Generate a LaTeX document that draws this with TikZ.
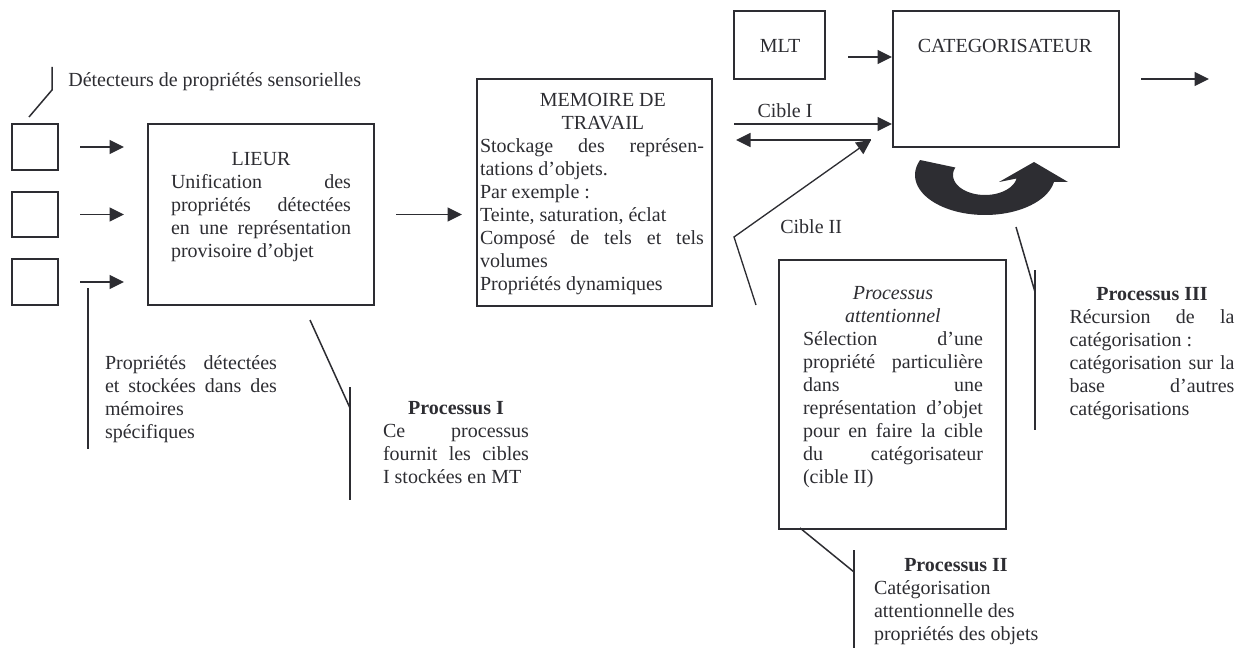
\documentclass[tikz,border=0pt]{standalone}
\usepackage{fontspec}
\setmainfont{Liberation Serif}
\usetikzlibrary{arrows.meta,fit}
\definecolor{ink}{RGB}{45,45,50}
\newcommand\jl[2]{\makebox[#1][s]{#2}}
\newcommand\lline[2]{\makebox[#1][l]{#2}}
\begin{document}
\begin{tikzpicture}[x=0.6pt,y=-0.6pt,
  font=\fontsize{12}{13.8}\selectfont,
  every node/.style={text=ink},
  box/.style={draw=ink, line width=1.2pt, inner sep=0pt},
  arr/.style={draw=ink, line width=0.8pt, -{Triangle[length=8.7pt,width=8.4pt]}},
  call/.style={draw=ink, line width=0.9pt},
  txt/.style={inner sep=0pt, anchor=north, align=center},
  lbl/.style={inner sep=0pt, anchor=base}]
\useasboundingbox (0,0) rectangle (1243,652);

% boxes
\node[box, fit={(12,124) (58,170)}] (d1) {};
\node[box, fit={(12,192) (58,237)}] (d2) {};
\node[box, fit={(12,259) (58,305)}] (d3) {};
\node[box, fit={(148,124) (374,305)}] (lieur) {};
\node[box, fit={(477,79) (712,306)}] (mem) {};
\node[box, fit={(734,11) (825,79)}] (mlt) {};
\node[box, fit={(893,11) (1119,147)}] (cat) {};
\node[box, fit={(779,260) (1006,529)}] (att) {};

% texts
\node[lbl, anchor=base west] (detlbl) at (68,87) {Détecteurs de propriétés sensorielles};
\node[lbl] (mltlbl) at (780,53) {MLT};
\node[lbl] (catlbl) at (1005,53) {CATEGORISATEUR};
\node[lbl] (c1lbl) at (785,118) {Cible I};
\node[lbl, anchor=base west] (c2lbl) at (780,233) {Cible II};

\node[txt] (lieurtxt) at (261,149) {\strut LIEUR\\
  \jl{108pt}{Unification des}\\
  \jl{108pt}{propriétés détectées}\\
  \jl{108pt}{en une représentation}\\
  \lline{108pt}{provisoire d’objet}};

\node[txt] (memtxt) at (592,90) {\strut\hspace*{13pt}MEMOIRE DE\\
  \hspace*{13pt}TRAVAIL\\
  \jl{134.4pt}{Stockage des représen-}\\
  \lline{134.4pt}{tations d’objets.}\\
  \lline{134.4pt}{Par exemple~:}\\
  \lline{134.4pt}{Teinte, saturation, éclat}\\
  \jl{134.4pt}{Composé de tels et tels}\\
  \lline{134.4pt}{volumes}\\
  \lline{134.4pt}{Propriétés dynamiques}};

\node[txt] (proptxt) at (191,353) {\strut\jl{103.2pt}{Propriétés détectées}\\
  \jl{103.2pt}{et stockées dans des}\\
  \lline{103.2pt}{mémoires}\\
  \lline{103.2pt}{spécifiques}};

\node[txt] (p1txt) at (456,398) {\strut\textbf{Processus I}\\
  \jl{87.6pt}{Ce processus}\\
  \jl{87.6pt}{fournit les cibles}\\
  \lline{87.6pt}{I stockées en MT}};

\node[txt] (atttxt) at (893,283) {\strut\textit{Processus}\\
  \textit{attentionnel}\\
  \jl{108pt}{Sélection d’une}\\
  \jl{108pt}{propriété particulière}\\
  \jl{108pt}{dans une}\\
  \jl{108pt}{représentation d’objet}\\
  \jl{108pt}{pour en faire la cible}\\
  \jl{108pt}{du catégorisateur}\\
  \lline{108pt}{(cible II)}};

\node[txt] (p3txt) at (1152,284) {\strut\textbf{Processus III}\\
  \jl{99pt}{Récursion de la}\\
  \lline{99pt}{catégorisation~:}\\
  \jl{99pt}{catégorisation sur la}\\
  \jl{99pt}{base d’autres}\\
  \lline{99pt}{catégorisations}};

\node[txt] (p2txt) at (956,555) {\strut\textbf{Processus II}\\
  \lline{98.4pt}{Catégorisation}\\
  \lline{98.4pt}{attentionnelle des}\\
  \lline{98.4pt}{propriétés des objets}};

% arrows
\draw[arr] ([xshift=12.6pt]d1.east) -- ([xshift=-13.8pt]d1.east -| lieur.west);
\draw[arr] ([xshift=12.6pt]d2.east) -- ([xshift=-13.8pt]d2.east -| lieur.west);
\draw[arr] ([xshift=12.6pt]d3.east) -- ([xshift=-13.8pt]d3.east -| lieur.west);
\draw[arr] ([xshift=12.6pt]lieur.east) -- ([xshift=-8.4pt]lieur.east -| mem.west);
\coordinate (ma) at ([shift={(22,12)}]mlt.east);
\draw[arr] (ma) -- (ma -| cat.west);
\coordinate (c1s) at (734,124);
\draw[arr] (c1s) -- (c1s -| cat.west);
\coordinate (cj) at (871,140);
\draw[arr] (cj) -- ([xshift=13.8pt]mem.east |- cj);
\coordinate (c2a) at (756,305);
\coordinate (c2b) at (734,237);
\draw[arr] (c2a) -- (c2b) -- (cj);
\draw[arr] ([xshift=12.6pt]cat.east) -- ++(68,0);

% recursion arrow
\fill[ink] plot[domain=158:350, samples=60] ({985+70*cos(\x)}, {175-40*sin(\x)})
  -- (1068,182) -- (1034,162) -- (999,182) -- (1016.5,178.5)
  -- plot[domain=350:158, samples=60] ({985+32*cos(\x)}, {175-20*sin(\x)}) -- cycle;

% callout lines
\coordinate (k0a) at (29,117); \coordinate (k0b) at (52,90); \coordinate (k0c) at (52,67);
\draw[call] (k0a) -- (k0b) -- (k0c);
\coordinate (kpa) at (88,288); \coordinate (kpb) at (88,449);
\draw[call] (kpa) -- (kpb);
\coordinate (k1a) at (310,320); \coordinate (k1b) at (350,408);
\coordinate (k1t) at (350,387); \coordinate (k1e) at (350,500);
\draw[call] (k1a) -- (k1b); \draw[call] (k1t) -- (k1e);
\coordinate (k2a) at (800,528); \coordinate (k2b) at (854,572);
\coordinate (k2t) at (854,550); \coordinate (k2e) at (854,648);
\draw[call] (k2a) -- (k2b); \draw[call] (k2t) -- (k2e);
\coordinate (k3a) at (1016,227); \coordinate (k3b) at (1035,292);
\coordinate (k3t) at (1035,270); \coordinate (k3e) at (1035,430);
\draw[call] (k3a) -- (k3b); \draw[call] (k3t) -- (k3e);
\end{tikzpicture}
\end{document}
